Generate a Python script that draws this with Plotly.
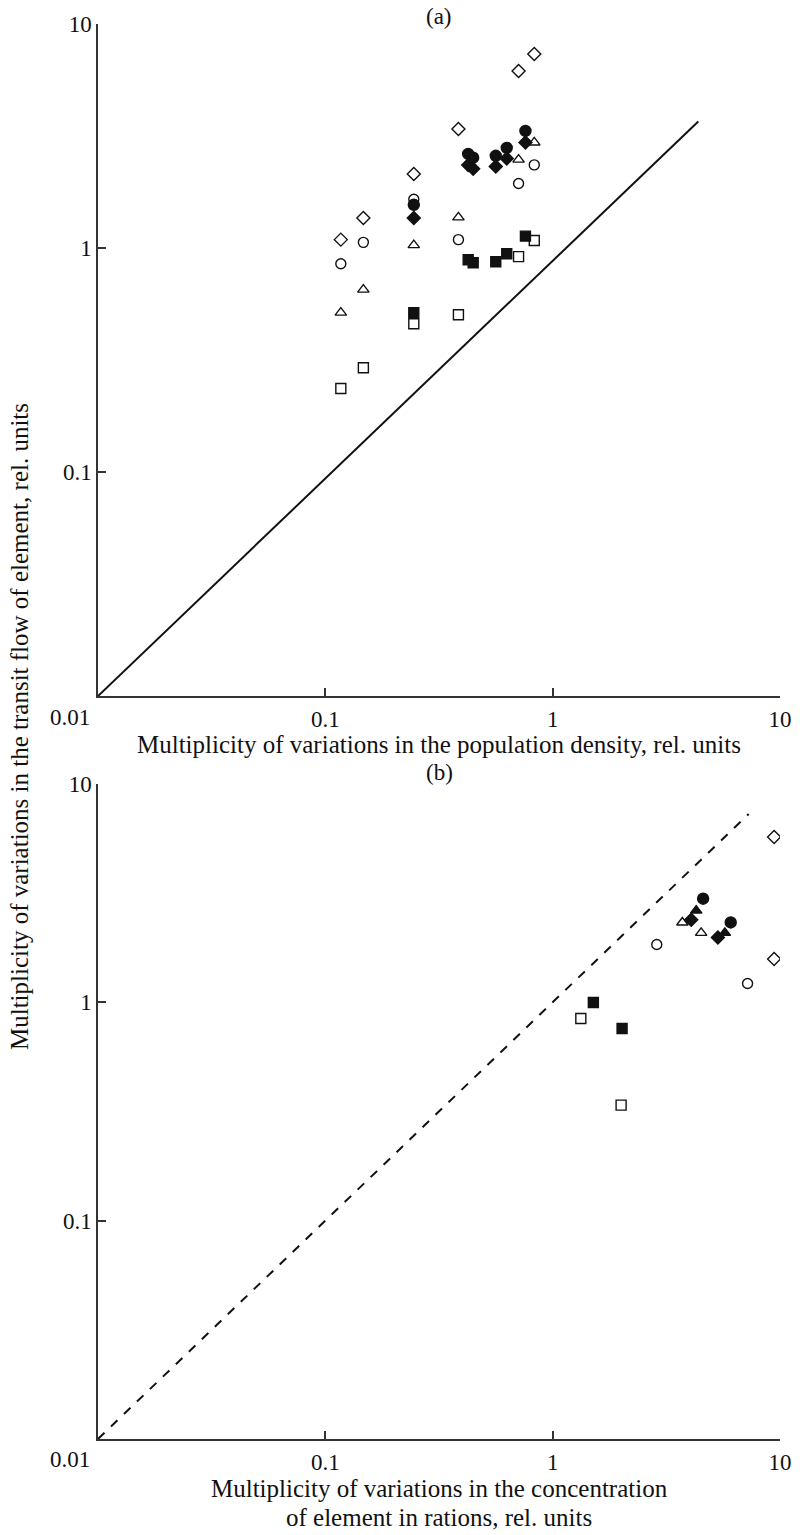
import plotly.graph_objects as go

# ---------------- data (panel a) ----------------
a_open_diamond_x = [0.117, 0.147, 0.245, 0.385, 0.708, 0.830]
a_open_diamond_y = [1.09, 1.36, 2.14, 3.40, 6.17, 7.35]
a_open_circle_x = [0.117, 0.147, 0.245, 0.385, 0.708, 0.830]
a_open_circle_y = [0.851, 1.06, 1.65, 1.09, 1.94, 2.35]
a_open_triangle_x = [0.117, 0.147, 0.245, 0.385, 0.708, 0.830]
a_open_triangle_y = [0.515, 0.652, 1.03, 1.37, 2.48, 2.96]
a_open_square_x = [0.117, 0.147, 0.245, 0.385, 0.708, 0.830]
a_open_square_y = [0.236, 0.292, 0.459, 0.504, 0.915, 1.08]
a_filled_circle_x = [0.245, 0.425, 0.447, 0.562, 0.628, 0.759]
a_filled_circle_y = [1.56, 2.63, 2.53, 2.58, 2.80, 3.33]
a_filled_diamond_x = [0.245, 0.425, 0.447, 0.562, 0.628, 0.759]
a_filled_diamond_y = [1.36, 2.35, 2.26, 2.31, 2.51, 2.96]
a_filled_square_x = [0.245, 0.425, 0.447, 0.562, 0.628, 0.759]
a_filled_square_y = [0.515, 0.886, 0.859, 0.869, 0.943, 1.13]
a_line_x = [0.01, 4.37]
a_line_y = [0.01, 3.67]

# ---------------- data (panel b) ----------------
b_open_diamond_x = [9.42, 9.42]
b_open_diamond_y = [5.72, 1.58]
b_open_circle_x = [2.87, 7.20]
b_open_circle_y = [1.84, 1.22]
b_open_triangle_x = [3.72, 4.50]
b_open_triangle_y = [2.32, 2.08]
b_open_square_x = [1.33, 2.00]
b_open_square_y = [0.843, 0.338]
b_filled_circle_x = [4.59, 6.07]
b_filled_circle_y = [2.98, 2.32]
b_filled_triangle_x = [4.28, 5.72]
b_filled_triangle_y = [2.63, 2.08]
b_filled_diamond_x = [4.07, 5.33]
b_filled_diamond_y = [2.39, 1.98]
b_filled_square_x = [1.51, 2.02]
b_filled_square_y = [0.998, 0.759]
b_line_x = [0.01, 7.28]
b_line_y = [0.01, 7.28]

tick_vals = [0.1, 1, 10]
tick_text = ["0.1", "1", "10"]

FONT = "Liberation Serif"
W, H = 804, 1535
ML, MR, MT, MB = 98, 15, 22, 96
PH = H - MT - MB


def py(p):
    """pixel row -> paper y"""
    return (H - MB - p) / PH


fig = go.Figure()


def add_pts(x, y, symbol, filled, size, xa, ya):
    fig.add_trace(go.Scatter(
        x=x, y=y, mode="markers", xaxis=xa, yaxis=ya, showlegend=False,
        marker=dict(symbol=symbol, size=size,
                    color="#111111" if filled else "white",
                    line=dict(color="#111111", width=1.4)),
    ))


# panel a
fig.add_trace(go.Scatter(x=a_line_x, y=a_line_y, mode="lines", xaxis="x", yaxis="y",
                         line=dict(color="#111111", width=2), showlegend=False))
add_pts(a_open_square_x, a_open_square_y, "square", False, 10, "x", "y")
add_pts(a_open_triangle_x, a_open_triangle_y, "triangle-up", False, 10, "x", "y")
add_pts(a_open_circle_x, a_open_circle_y, "circle", False, 10, "x", "y")
add_pts(a_open_diamond_x, a_open_diamond_y, "diamond", False, 10, "x", "y")
add_pts(a_filled_square_x, a_filled_square_y, "square", True, 10, "x", "y")
add_pts(a_filled_circle_x, a_filled_circle_y, "circle", True, 11, "x", "y")
add_pts(a_filled_diamond_x, a_filled_diamond_y, "diamond", True, 10, "x", "y")

# panel b
fig.add_trace(go.Scatter(x=b_line_x, y=b_line_y, mode="lines", xaxis="x2", yaxis="y2",
                         line=dict(color="#111111", width=2, dash="dash"), showlegend=False))
add_pts(b_open_square_x, b_open_square_y, "square", False, 10, "x2", "y2")
add_pts(b_open_triangle_x, b_open_triangle_y, "triangle-up", False, 10, "x2", "y2")
add_pts(b_open_circle_x, b_open_circle_y, "circle", False, 10, "x2", "y2")
add_pts(b_open_diamond_x, b_open_diamond_y, "diamond", False, 10, "x2", "y2")
add_pts(b_filled_square_x, b_filled_square_y, "square", True, 10, "x2", "y2")
add_pts(b_filled_circle_x, b_filled_circle_y, "circle", True, 11, "x2", "y2")
add_pts(b_filled_triangle_x, b_filled_triangle_y, "triangle-up", True, 10, "x2", "y2")
add_pts(b_filled_diamond_x, b_filled_diamond_y, "diamond", True, 10, "x2", "y2")

TICK_SIZE = 23
TITLE_SIZE = 25

axis_common = dict(
    type="log", range=[-2, 1], showgrid=False, zeroline=False,
    showline=True, linecolor="#333333", linewidth=1.5,
    ticks="inside", ticklen=8, tickwidth=1.5, tickcolor="#333333",
    tickvals=tick_vals, ticktext=tick_text,
    tickfont=dict(family=FONT, size=TICK_SIZE, color="#111111"),
)

a_bottom = py(695)
b_top = py(783)

fig.update_layout(
    width=W, height=H,
    margin=dict(l=ML, r=MR, t=MT, b=MB),
    paper_bgcolor="white", plot_bgcolor="white",
    xaxis=dict(axis_common, domain=[0, 1], anchor="y", ticklabelstandoff=2),
    yaxis=dict(axis_common, domain=[a_bottom, 1], anchor="x"),
    xaxis2=dict(axis_common, domain=[0, 1], anchor="y2", ticklabelstandoff=2),
    yaxis2=dict(axis_common, domain=[0, b_top], anchor="x2"),
)

tick_font = dict(family=FONT, size=TICK_SIZE, color="#111111")
ann_font = dict(family=FONT, size=TITLE_SIZE, color="#111111")
annotations = [
    dict(text="(a)", x=0.5, y=py(14), xref="paper", yref="paper", showarrow=False,
         xanchor="center", yanchor="middle", font=tick_font),
    dict(text="(b)", x=0.5, y=py(772), xref="paper", yref="paper", showarrow=False,
         xanchor="center", yanchor="middle", font=tick_font),
    dict(text="0.01", x=0, y=py(716), xref="paper", yref="paper", showarrow=False,
         xanchor="right", yanchor="middle", xshift=-6, font=tick_font),
    dict(text="0.01", x=0, y=py(1460), xref="paper", yref="paper", showarrow=False,
         xanchor="right", yanchor="middle", xshift=-6, font=tick_font),
    dict(text="Multiplicity of variations in the population density, rel. units",
         x=0.5, y=py(744), xref="paper", yref="paper", showarrow=False,
         xanchor="center", yanchor="middle", font=ann_font),
    dict(text="Multiplicity of variations in the concentration",
         x=0.5, y=py(1489), xref="paper", yref="paper", showarrow=False,
         xanchor="center", yanchor="middle", font=ann_font),
    dict(text="of element in rations, rel. units",
         x=0.5, y=py(1518), xref="paper", yref="paper", showarrow=False,
         xanchor="center", yanchor="middle", font=ann_font),
    dict(text="Multiplicity of variations in the transit flow of element, rel. units",
         x=(18 - ML) / (W - ML - MR), y=py(726), xref="paper", yref="paper", showarrow=False,
         xanchor="center", yanchor="middle", textangle=-90, font=ann_font),
]
fig.update_layout(annotations=annotations)

fig.write_html(
    "out.html",
    config={"displayModeBar": False},
    post_script="document.body.style.margin='0';document.body.style.overflow='hidden';",
)
